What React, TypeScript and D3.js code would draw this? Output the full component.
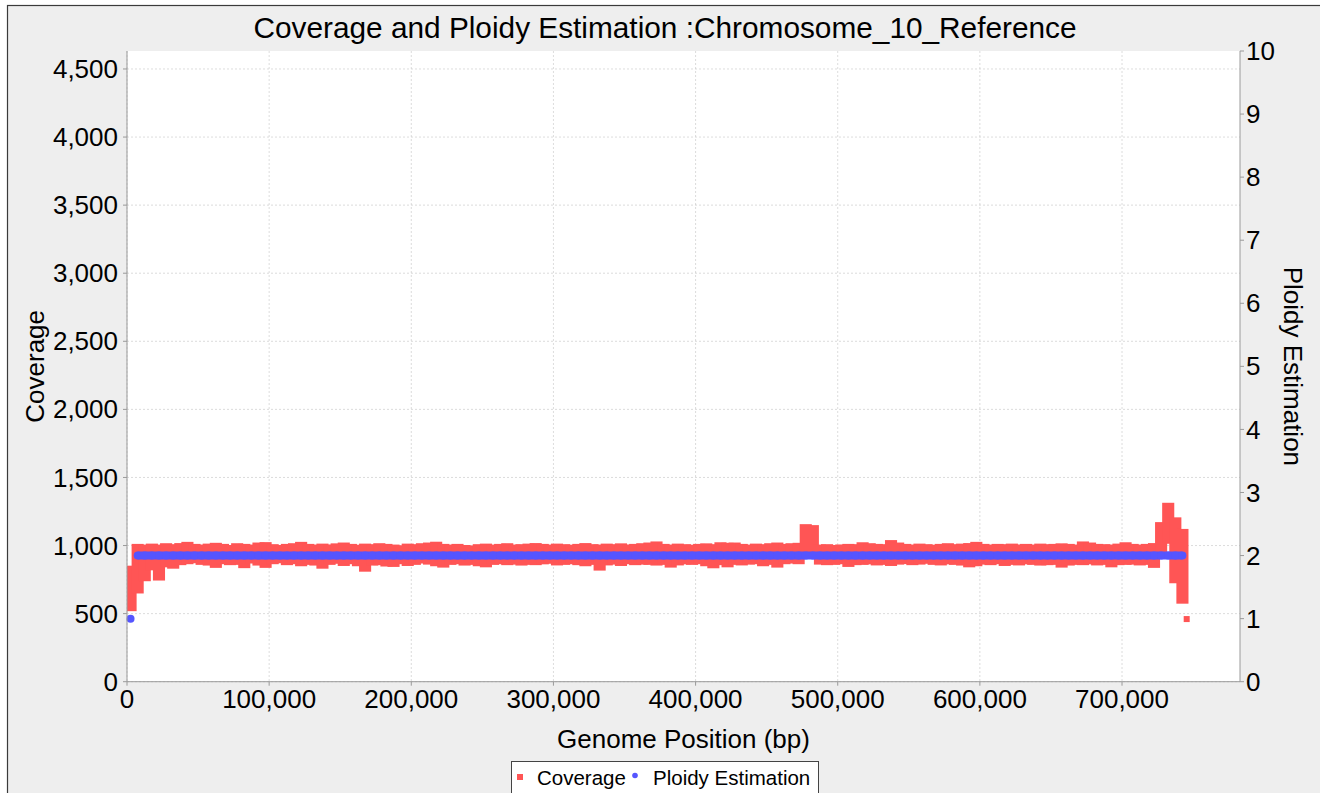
import React from "react";
import * as d3 from "d3";

// Coverage is summarised per 5 kb window: highest and lowest reading in each window.
const WINDOW = 5000;

const coverageHigh = [
  830, 990, 985, 992, 985, 995, 988, 996, 1005, 990,
  985, 992, 998, 990, 982, 995, 990, 985, 1000, 1003,
  988, 982, 990, 995, 1005, 990, 985, 992, 986, 994,
  1000, 990, 984, 992, 988, 995, 990, 985, 980, 992,
  988, 995, 1000, 1006, 990, 985, 990, 982, 978, 988,
  992, 985, 990, 995, 985, 988, 992, 996, 990, 985,
  992, 988, 984, 990, 996, 988, 985, 992, 988, 994,
  986, 990, 995, 1000, 1008, 990, 985, 992, 988, 984,
  990, 994, 988, 1002, 998, 1000, 990, 985, 992, 988,
  995, 1000, 990, 995, 998, 1135, 1128, 985, 988, 982,
  986, 990, 988, 1002, 995, 990, 988, 1018, 1000, 990,
  985, 992, 988, 984, 990, 995, 988, 992, 996, 1005,
  990, 985, 990, 988, 992, 986, 990, 985, 992, 988,
  990, 994, 990, 985, 1008, 1000, 990, 988, 985, 992,
  1002, 990, 985, 990, 996, 1150, 1292, 1185, 1100,
];

const coverageLow = [
  540, 670, 760, 840, 765, 862, 852, 878, 885, 892,
  880, 875, 858, 885, 878, 880, 856, 890, 875, 858,
  885, 892, 878, 885, 870, 880, 875, 852, 880, 888,
  872, 885, 870, 830, 875, 878, 868, 865, 885, 872,
  880, 890, 882, 870, 860, 880, 885, 875, 880, 870,
  862, 880, 885, 878, 882, 875, 880, 878, 884, 888,
  876, 880, 885, 878, 870, 880, 838, 876, 882, 872,
  885, 878, 882, 880, 875, 880, 860, 876, 884, 880,
  885, 870, 855, 878, 862, 880, 876, 882, 885, 870,
  880, 860, 885, 890, 885, 945, 945, 882, 878, 880,
  885, 865, 878, 880, 884, 876, 880, 872, 882, 886,
  878, 882, 888, 880, 876, 884, 880, 875, 862, 870,
  882, 878, 885, 872, 880, 876, 884, 880, 875, 878,
  880, 860, 875, 880, 878, 884, 876, 880, 862, 878,
  880, 882, 876, 880, 858, 960, 1035, 745, 595,
];

// Single reading past the last full window
const tailPositions = [745500];
const tailCoverage = [460];

// Ploidy call for each window
const ploidyEstimate = [
  1, 2, 2, 2, 2, 2, 2, 2, 2, 2,
  2, 2, 2, 2, 2, 2, 2, 2, 2, 2,
  2, 2, 2, 2, 2, 2, 2, 2, 2, 2,
  2, 2, 2, 2, 2, 2, 2, 2, 2, 2,
  2, 2, 2, 2, 2, 2, 2, 2, 2, 2,
  2, 2, 2, 2, 2, 2, 2, 2, 2, 2,
  2, 2, 2, 2, 2, 2, 2, 2, 2, 2,
  2, 2, 2, 2, 2, 2, 2, 2, 2, 2,
  2, 2, 2, 2, 2, 2, 2, 2, 2, 2,
  2, 2, 2, 2, 2, 2, 2, 2, 2, 2,
  2, 2, 2, 2, 2, 2, 2, 2, 2, 2,
  2, 2, 2, 2, 2, 2, 2, 2, 2, 2,
  2, 2, 2, 2, 2, 2, 2, 2, 2, 2,
  2, 2, 2, 2, 2, 2, 2, 2, 2, 2,
  2, 2, 2, 2, 2, 2, 2, 2, 2,
];

const positionTicks = [0, 100000, 200000, 300000, 400000, 500000, 600000, 700000];
const coverageTicks = [0, 500, 1000, 1500, 2000, 2500, 3000, 3500, 4000, 4500];
const ploidyTicks = [0, 1, 2, 3, 4, 5, 6, 7, 8, 9, 10];

const TITLE = "Coverage and Ploidy Estimation :Chromosome_10_Reference";
const RED = "#ff5555";
const BLUE = "#5555ff";
const FONT = "'Liberation Sans', Arial, Helvetica, sans-serif";

export default function App() {
  const L = 127;
  const R = 1240;
  const T = 51;
  const B = 681.7;

  const x = d3.scaleLinear().domain([0, 783000]).range([L, R]);
  const yCov = d3.scaleLinear().domain([0, 4632]).range([B, T]);
  const yPl = d3.scaleLinear().domain([0, 10]).range([B, T]);
  const fmt = d3.format(",");

  const half = 3; // half size of a coverage marker
  const pad = 2.5;
  const dotR = 4;

  const ploidyPoints = ploidyEstimate.map((v, i) => ({ pos: i * WINDOW + WINDOW / 2, v, i }));

  // runs of consecutive windows sharing the same ploidy call
  const runs: { pos: number; v: number; i: number }[][] = [];
  ploidyPoints.forEach((p) => {
    const last = runs[runs.length - 1];
    if (last && last[last.length - 1].v === p.v) last.push(p);
    else runs.push([p]);
  });

  const ploidyLine = d3
    .line<{ pos: number; v: number }>()
    .x((d) => x(d.pos))
    .y((d) => yPl(d.v));

  return (
    <svg
      width={1320}
      height={793}
      style={{ position: "absolute", left: 0, top: 0, fontFamily: FONT }}
    >
      <rect x={0} y={0} width={1320} height={793} fill="#ffffff" />
      <rect x={7.5} y={5.5} width={1400} height={900} fill="#eeeeee" stroke="#3a3a3a" strokeWidth={1.2} />

      <text x={665} y={38} textAnchor="middle" fontSize={29.8} fill="#000">
        {TITLE}
      </text>

      <defs>
        <clipPath id="plot-clip">
          <rect x={L} y={T} width={R - L} height={B - T} />
        </clipPath>
      </defs>

      <rect x={L} y={T} width={R - L} height={B - T} fill="#ffffff" />

      {/* grid */}
      <g stroke="#c4c4c4" strokeWidth={0.6} strokeDasharray="2,2">
        {positionTicks.map((t) => (
          <line key={"gx" + t} x1={x(t)} x2={x(t)} y1={T} y2={B} />
        ))}
        {coverageTicks.map((t) => (
          <line key={"gy" + t} x1={L} x2={R} y1={yCov(t)} y2={yCov(t)} />
        ))}
      </g>

      {/* coverage windows */}
      <g clipPath="url(#plot-clip)" fill={RED}>
        {coverageHigh.map((hi, i) => {
          const lo = coverageLow[i];
          const x0 = x(i * WINDOW) - pad;
          const x1 = x((i + 1) * WINDOW) + pad;
          const y0 = yCov(hi) - half;
          const y1 = yCov(lo) + half;
          return <rect key={"c" + i} x={x0} y={y0} width={x1 - x0} height={y1 - y0} />;
        })}
        {tailPositions.map((p, i) => (
          <rect
            key={"t" + i}
            x={x(p) - half}
            y={yCov(tailCoverage[i]) - half}
            width={half * 2}
            height={half * 2}
          />
        ))}
      </g>

      {/* ploidy calls: a dot per window, joined within runs of equal calls */}
      <g>
        {runs
          .filter((r) => r.length > 1)
          .map((r, k) => (
            <path
              key={"run" + k}
              d={ploidyLine(r) || ""}
              fill="none"
              stroke={BLUE}
              strokeWidth={dotR * 2}
            />
          ))}
        {ploidyPoints.map((p) => (
          <circle key={"p" + p.i} cx={x(p.pos)} cy={yPl(p.v)} r={dotR} fill={BLUE} />
        ))}
      </g>

      {/* axes */}
      <g stroke="#9a9a9a" strokeWidth={1}>
        <line x1={L} x2={L} y1={T} y2={B} />
        <line x1={R} x2={R} y1={T} y2={B} />
        <line x1={L} x2={R} y1={B} y2={B} />
        {coverageTicks.map((t) => (
          <line key={"lt" + t} x1={L - 4} x2={L} y1={yCov(t)} y2={yCov(t)} />
        ))}
        {ploidyTicks.map((t) => (
          <line key={"rt" + t} x1={R} x2={R + 4} y1={yPl(t)} y2={yPl(t)} />
        ))}
        {positionTicks.map((t) => (
          <line key={"bt" + t} x1={x(t)} x2={x(t)} y1={B} y2={B + 4} />
        ))}
      </g>

      <g fontSize={26} fill="#000">
        {coverageTicks.map((t) => (
          <text key={"ll" + t} x={118} y={yCov(t)} dy="0.35em" textAnchor="end">
            {fmt(t)}
          </text>
        ))}
        {ploidyTicks.map((t) => (
          <text key={"rl" + t} x={1246} y={yPl(t)} dy="0.35em" textAnchor="start">
            {t}
          </text>
        ))}
        {positionTicks.map((t) => (
          <text key={"bl" + t} x={x(t)} y={708} textAnchor="middle">
            {fmt(t)}
          </text>
        ))}
      </g>

      <text x={(L + R) / 2} y={748} textAnchor="middle" fontSize={26} fill="#000">
        Genome Position (bp)
      </text>
      <text
        transform={`translate(44, ${(T + B) / 2}) rotate(-90)`}
        textAnchor="middle"
        fontSize={26}
        fill="#000"
      >
        Coverage
      </text>
      <text
        transform={`translate(1284, ${(T + B) / 2}) rotate(90)`}
        textAnchor="middle"
        fontSize={26}
        fill="#000"
      >
        Ploidy Estimation
      </text>

      {/* legend */}
      <g>
        <rect x={511.5} y={761.5} width={307} height={45} fill="#ffffff" stroke="#444" strokeWidth={1} />
        <rect x={517} y={774} width={6} height={6} fill={RED} />
        <text x={537} y={785} fontSize={20.5} fill="#000">
          Coverage
        </text>
        <circle cx={635} cy={775.5} r={2.8} fill={BLUE} />
        <text x={653} y={785} fontSize={20.5} fill="#000">
          Ploidy Estimation
        </text>
      </g>
    </svg>
  );
}
